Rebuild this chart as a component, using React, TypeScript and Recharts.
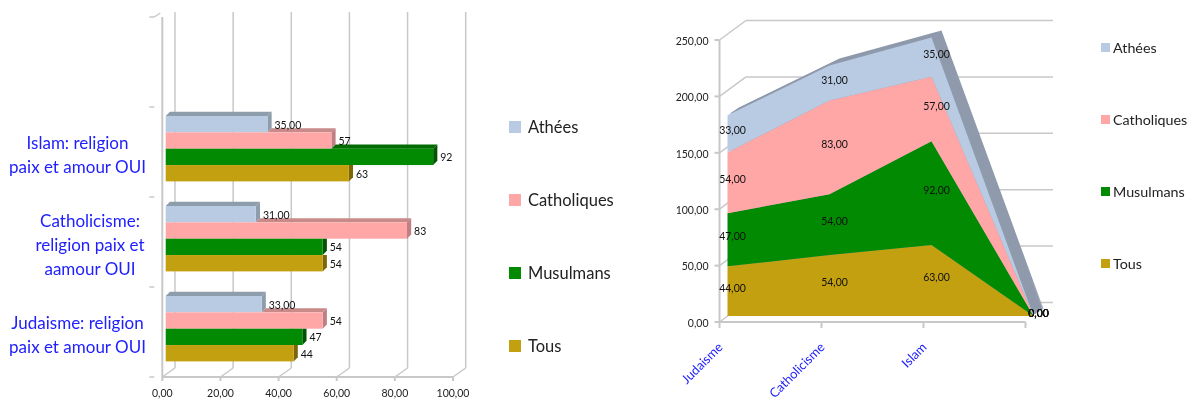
import { Area, AreaChart, Bar, BarChart, CartesianGrid, LabelList, Legend, XAxis, YAxis } from "recharts";

const font = "Lato, sans-serif";
const gridColor = "#c8c8c8";
const blueText = "#2020ff";

// left chart, top to bottom (first slot is empty in the original)
const barCategories = ["", "Islam: religion|paix et amour OUI", "Catholicisme:|religion paix et|aamour OUI", "Judaisme: religion|paix et amour OUI"];
const barAthees = [null, 35, 31, 33];
const barCatholiques = [null, 57, 83, 54];
const barMusulmans = [null, 92, 54, 47];
const barTous = [null, 63, 54, 44];
const barTicks = [0, 20, 40, 60, 80, 100];

// right chart
const areaCategories = ["Judaisme", "Catholicisme", "Islam", ""];
const areaTous = [44, 54, 63, 0];
const areaMusulmans = [47, 54, 92, 0];
const areaCatholiques = [54, 83, 57, 0];
const areaAthees = [33, 31, 35, 0];
const areaTicks = [0, 50, 100, 150, 200, 250];

const seriesNames = ["Athées", "Catholiques", "Musulmans", "Tous"];
const seriesColors = ["#b9cbe3", "#ffa6a6", "#028a02", "#c3a00f"];
const topColors = ["#8e9dab", "#c98a8a", "#016a01", "#94780a"];
const sideColors = ["#8e9dab", "#c07f84", "#015401", "#7e6608"];

const barSeries = [barAthees, barCatholiques, barMusulmans, barTous];

const barData = barCategories.map((cat, i) => ({
  cat,
  athees: barAthees[i],
  catholiques: barCatholiques[i],
  musulmans: barMusulmans[i],
  tous: barTous[i],
}));

const areaData = areaCategories.map((cat, i) => ({
  cat,
  tous: areaTous[i],
  musulmans: areaMusulmans[i],
  catholiques: areaCatholiques[i],
  athees: areaAthees[i],
}));

const fmt = (v: number) => v.toFixed(2).replace(".", ",");

function Bar3D({ x, y, width, height, value, idx, payload }: any) {
  if (value == null || !width) return null;
  const bx = x + 3.4;
  const by = y - 3;
  const d = 4.2;
  const end = bx + width;
  // the bar above hides whatever part of this one's depth sits behind its front
  const row = barCategories.indexOf(payload.cat);
  const prev = idx > 0 ? barSeries[idx - 1][row] : null;
  const prevEnd = prev != null ? bx + (width / value) * prev : null;
  const shorter = prevEnd != null && prevEnd >= end;
  const topStart = prevEnd != null ? prevEnd : bx;
  const top = `${topStart},${by} ${topStart + d},${by - d} ${end + d},${by - d} ${end},${by}`;
  const side = shorter
    ? `${end},${by} ${end + d},${by} ${end + d},${by + height - d} ${end},${by + height}`
    : `${end},${by} ${end + d},${by - d} ${end + d},${by + height - d} ${end},${by + height}`;
  return (
    <g>
      {!shorter && <polygon points={top} fill={topColors[idx]} />}
      <polygon points={side} fill={sideColors[idx]} />
      <rect x={bx} y={by} width={width} height={height} fill={seriesColors[idx]} />
    </g>
  );
}

function BarValue({ x, y, width, height, value, asDecimal }: any) {
  if (value == null) return null;
  return (
    <text x={x + width + 10.5} y={y + height / 2 + 1.5} fontSize={10.5} fontFamily={font} fill="#111">
      {asDecimal ? fmt(value) : value}
    </text>
  );
}

function BarCategoryTick({ x, y, payload }: any) {
  const lines: string[] = String(payload.value).split("|");
  const cx = lines.length === 3 ? 90 : 77.5;
  const startY = y + 2.5 - ((lines.length - 1) * 24) / 2;
  const isFirst = payload.index === 0;
  return (
    <g>
      <line x1={x - 5} x2={x} y1={y + 45} y2={y + 45} stroke={gridColor} strokeWidth={1.5} />
      {isFirst && <line x1={x - 5} x2={x} y1={y - 45} y2={y - 45} stroke={gridColor} strokeWidth={1.5} />}
      {isFirst && <line x1={x} x2={x + 6} y1={y - 45} y2={y - 49} stroke={gridColor} strokeWidth={1.5} />}
      {lines.map((line, i) => (
        <text key={i} x={cx} y={startY + i * 24 + 6} textAnchor="middle" fontSize={17} fontFamily={font} fill={blueText}>
          {line}
        </text>
      ))}
    </g>
  );
}

function BarWallLine({ x1, y1, y2 }: any) {
  return (
    <g>
      <line x1={x1 + 12.7} x2={x1 + 12.7} y1={y1 - 5} y2={y2 - 9} stroke={gridColor} strokeWidth={1.5} />
      <line x1={x1} x2={x1 + 12.7} y1={y2} y2={y2 - 9} stroke={gridColor} strokeWidth={1.5} />
    </g>
  );
}

function AreaWallLine({ x1, x2, y1 }: any) {
  return (
    <g>
      <line x1={x1 + 26.5} x2={x2 + 27.5} y1={y1 - 19.5} y2={y1 - 19.5} stroke={gridColor} strokeWidth={1.5} />
      <line x1={x1} x2={x1 + 26.5} y1={y1} y2={y1 - 19.5} stroke={gridColor} strokeWidth={1.5} />
    </g>
  );
}

function AreaCategoryTick({ x, y, payload }: any) {
  return (
    <text
      transform={`rotate(-45 ${x + 4} ${y + 18})`}
      x={x + 4}
      y={y + 18}
      textAnchor="end"
      fontSize={12.8}
      fontFamily={font}
      fill={blueText}
    >
      {payload.value}
    </text>
  );
}

const areaUnit = 282 / 250;

function AreaValue({ x, y, index, values }: any) {
  const v = values[index];
  return (
    <text
      x={x + 5}
      y={y + (v * areaUnit) / 2 + 0.5}
      textAnchor="middle"
      fontSize={10.5}
      fontFamily={font}
      fill="#111"
    >
      {fmt(v)}
    </text>
  );
}

function LegendBlock({ rowGap, size, fontSize, gap }: { rowGap: number; size: number; fontSize: number; gap: number }) {
  return (
    <div style={{ fontFamily: font, fontSize, color: "#222" }}>
      {seriesNames.map((name, i) => (
        <div key={name} style={{ height: rowGap, display: "flex", alignItems: "center" }}>
          <span style={{ width: size, height: size, background: seriesColors[i], marginRight: gap, flex: "none" }} />
          <span style={{ whiteSpace: "nowrap" }}>{name}</span>
        </div>
      ))}
    </div>
  );
}

const areaMargin = { top: 40, right: 163.5, bottom: 81, left: 79.5 };

function AreaLayer({ dx, dy, fill, labels }: { dx: number; dy: number; fill?: string; labels?: boolean }) {
  const series = [
    { key: "tous", values: areaTous, color: seriesColors[3] },
    { key: "musulmans", values: areaMusulmans, color: seriesColors[2] },
    { key: "catholiques", values: areaCatholiques, color: seriesColors[1] },
    { key: "athees", values: areaAthees, color: seriesColors[0] },
  ];
  return (
    <div style={{ position: "absolute", left: 640 + dx, top: dy }}>
      <AreaChart width={549} height={403} data={areaData} margin={areaMargin}>
        <XAxis dataKey="cat" hide />
        <YAxis domain={[0, 250]} hide />
        {series.map((s) => (
          <Area
            key={s.key}
            dataKey={s.key}
            stackId="a"
            type="linear"
            stroke="none"
            fill={fill ?? s.color}
            fillOpacity={1}
            dot={false}
            activeDot={false}
            isAnimationActive={false}
          >
            {labels && <LabelList content={(p: any) => <AreaValue {...p} values={s.values} />} />}
          </Area>
        ))}
      </AreaChart>
    </div>
  );
}

export default function App() {
  const barKeys = ["athees", "catholiques", "musulmans", "tous"];
  return (
    <div style={{ position: "fixed", left: 0, top: 0, width: 1189, height: 403, background: "#fff", overflow: "hidden", filter: "blur(0.4px)" }}>
      <div style={{ position: "absolute", left: 0, top: 0 }}>
        <BarChart
          width={640}
          height={403}
          layout="vertical"
          data={barData}
          margin={{ top: 17, right: 187, bottom: 0, left: 0 }}
          barSize={16.35}
          barGap={0}
        >
          <CartesianGrid horizontal={false} vertical={(p: any) => <BarWallLine key={p.key} {...p} />} />
          <XAxis
            type="number"
            domain={[0, 100]}
            ticks={barTicks}
            height={26}
            tickSize={4}
            stroke={gridColor}
            strokeWidth={2}
            tick={{ fontSize: 10.5, fontFamily: font, fill: "#222" }}
            tickFormatter={fmt}
            tickMargin={9}
          />
          <YAxis
            type="category"
            dataKey="cat"
            width={162.3}
            interval={0}
            stroke={gridColor}
            strokeWidth={2}
            tickLine={false}
            tick={<BarCategoryTick />}
          />
          {barKeys.map((k, i) => (
            <Bar
              key={k}
              dataKey={k}
              shape={(p: any) => <Bar3D {...p} idx={i} />}
              isAnimationActive={false}
            >
              <LabelList content={(p: any) => <BarValue {...p} asDecimal={i === 0} />} />
            </Bar>
          ))}
          <Legend
            layout="horizontal"
            align="center"
            verticalAlign="middle"
            wrapperStyle={{ left: 509, top: 90, width: 130 }}
            content={() => <LegendBlock rowGap={73} size={12} fontSize={16.5} gap={7} />}
          />
        </BarChart>
      </div>

      <div style={{ position: "absolute", left: 640, top: 0 }}>
        <AreaChart
          width={549}
          height={403}
          data={areaData}
          margin={{ top: 40, right: 163.5, bottom: 0, left: 0 }}
        >
          <CartesianGrid vertical={false} horizontal={(p: any) => <AreaWallLine key={p.key} {...p} />} />
          <XAxis
            dataKey="cat"
            height={81}
            interval={0}
            tickSize={6}
            stroke={gridColor}
            strokeWidth={2}
            tick={<AreaCategoryTick />}
          />
          <YAxis
            domain={[0, 250]}
            ticks={areaTicks}
            width={79.5}
            tickSize={5}
            stroke={gridColor}
            strokeWidth={2}
            tick={{ fontSize: 10.5, fontFamily: font, fill: "#222", dy: 1 }}
            tickFormatter={fmt}
            tickMargin={6}
          />
          <Area dataKey="tous" stroke="none" fill="none" dot={false} activeDot={false} isAnimationActive={false} />
          <Legend
            layout="horizontal"
            align="center"
            verticalAlign="middle"
            wrapperStyle={{ left: 461, top: 11, width: 88 }}
            content={() => <LegendBlock rowGap={72} size={9} fontSize={14.3} gap={3} />}
          />
        </AreaChart>
      </div>

      {[10, 8.5, 7, 5.5, 4, 2.5].map((d) => (
        <AreaLayer key={d} dx={8 + d} dy={-6 - d * 0.7} fill="#8f9aac" />
      ))}
      <AreaLayer dx={8} dy={-6} labels />
    </div>
  );
}
